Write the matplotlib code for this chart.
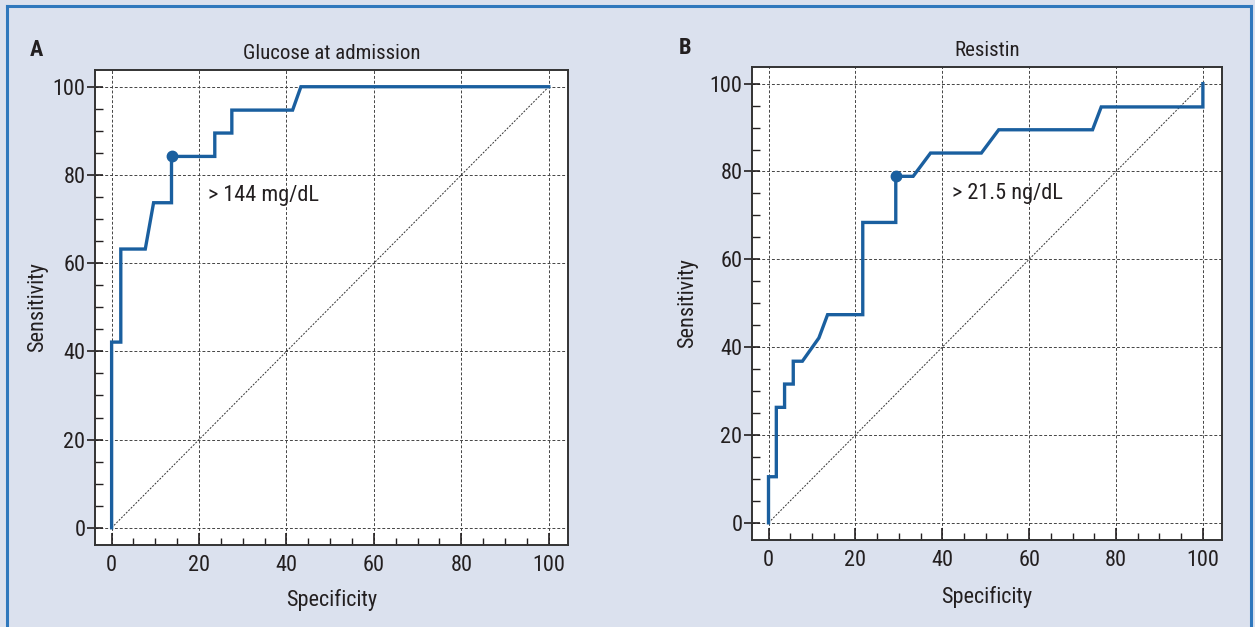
import matplotlib
matplotlib.use("Agg")
import matplotlib.pyplot as plt
from matplotlib.lines import Line2D
from matplotlib.ticker import MultipleLocator

# --- Condensed font, closest to the condensed Helvetica of the reference
plt.rcParams['font.family'] = ['Roboto Condensed', 'Archivo Narrow', 'DejaVu Sans']

# --- Data
glucose_x = [0, 0, 2.1, 2.1, 7.7, 9.6, 13.7, 13.7, 23.6, 23.6, 27.5, 27.5, 41.4, 43.3, 100]
glucose_y = [0, 42.1, 42.1, 63.2, 63.2, 73.7, 73.7, 84.2, 84.2, 89.5, 89.5, 94.7, 94.7, 100, 100]
glucose_cut = (13.7, 84.2)

resistin_x = [0, 0, 1.8, 1.8, 3.7, 3.7, 5.7, 5.7, 7.8, 11.6, 13.6, 21.7, 21.7, 29.3, 29.3,
              33.3, 37.3, 49.0, 53.0, 74.6, 76.6, 100, 100]
resistin_y = [0, 10.5, 10.5, 26.3, 26.3, 31.6, 31.6, 36.8, 36.8, 42.1, 47.4, 47.4, 68.4, 68.4, 78.9,
              78.9, 84.2, 84.2, 89.5, 89.5, 94.7, 94.7, 100]
resistin_cut = (29.3, 78.9)

panels = [
    dict(letter='A', title='Glucose at admission', x=glucose_x, y=glucose_y, cut=glucose_cut,
         label='> 144 mg/dL', label_xy=(22, 75.3), rect=[0.0757, 0.1308, 0.3769, 0.7576],
         letter_xy=(-0.137, 1.042), ylab_x=-0.099, xlab_y=-0.093),
    dict(letter='B', title='Resistin', x=resistin_x, y=resistin_y, cut=resistin_cut,
         label='> 21.5 ng/dL', label_xy=(42.2, 75.1), rect=[0.5992, 0.1388, 0.3745, 0.7544],
         letter_xy=(-0.155, 1.040), ylab_x=-0.115, xlab_y=-0.097),
]

BG = '#dbe1ee'
LINE = '#1a5f9f'
INK = '#231f20'
FS = 16

fig = plt.figure(figsize=(12.55, 6.27), dpi=100)
fig.patch.set_facecolor(BG)

for p in panels:
    ax = fig.add_axes(p['rect'])
    ax.set_facecolor('white')
    ax.plot([0, 100], [0, 100], color='#333333', lw=0.7, ls=(0, (2, 1.5)), zorder=2)
    ax.plot(p['x'], p['y'], color=LINE, lw=2.4, zorder=3, solid_joinstyle='miter')
    ax.plot(*p['cut'], 'o', color=LINE, ms=7.5, zorder=4)
    ax.text(*p['label_xy'], p['label'], fontsize=FS, color=INK, va='center')

    ax.set_xlim(-3.8, 104.4)
    ax.set_ylim(-3.9, 103.8)
    ax.xaxis.set_major_locator(MultipleLocator(20))
    ax.xaxis.set_minor_locator(MultipleLocator(5))
    ax.yaxis.set_major_locator(MultipleLocator(20))
    ax.yaxis.set_minor_locator(MultipleLocator(5))
    ax.grid(True, which='major', color='#444444', lw=0.7, ls=(0, (3, 2)), zorder=1)
    ax.tick_params(axis='x', which='major', direction='in', length=9, width=1.2, labelsize=FS, pad=7,
                   colors=INK)
    ax.tick_params(axis='x', which='minor', direction='in', length=5, width=1.0, colors=INK)
    ax.tick_params(axis='y', which='major', direction='inout', length=12, width=1.2, labelsize=FS, pad=1,
                   colors=INK)
    ax.tick_params(axis='y', which='minor', direction='in', length=6, width=1.0, colors=INK)
    for s in ax.spines.values():
        s.set_color('#333333')
        s.set_linewidth(1.4)

    ax.set_xlabel('Specificity', fontsize=FS, color=INK)
    ax.set_ylabel('Sensitivity', fontsize=FS, color=INK)
    ax.yaxis.set_label_coords(p['ylab_x'], 0.5)
    ax.xaxis.set_label_coords(0.5, p['xlab_y'])
    ax.set_title(p['title'], fontsize=15, color=INK, pad=8)
    ax.text(*p['letter_xy'], p['letter'], transform=ax.transAxes, fontsize=16, fontweight='bold',
            color=INK, va='center')

# --- Blue frame around the figure (top, left, right)
fw, fh = 1255, 627
border = dict(color='#2f78bd', lw=2.2, transform=fig.transFigure)
fig.add_artist(Line2D([7 / fw, 1251 / fw], [1 - 5.5 / fh, 1 - 5.5 / fh], **border))
fig.add_artist(Line2D([7 / fw, 7 / fw], [0, 1 - 5.5 / fh], **border))
fig.add_artist(Line2D([1251 / fw, 1251 / fw], [0, 1 - 5.5 / fh], **border))

fig.savefig('out.png', dpi=100, facecolor=BG)
plt.close()
